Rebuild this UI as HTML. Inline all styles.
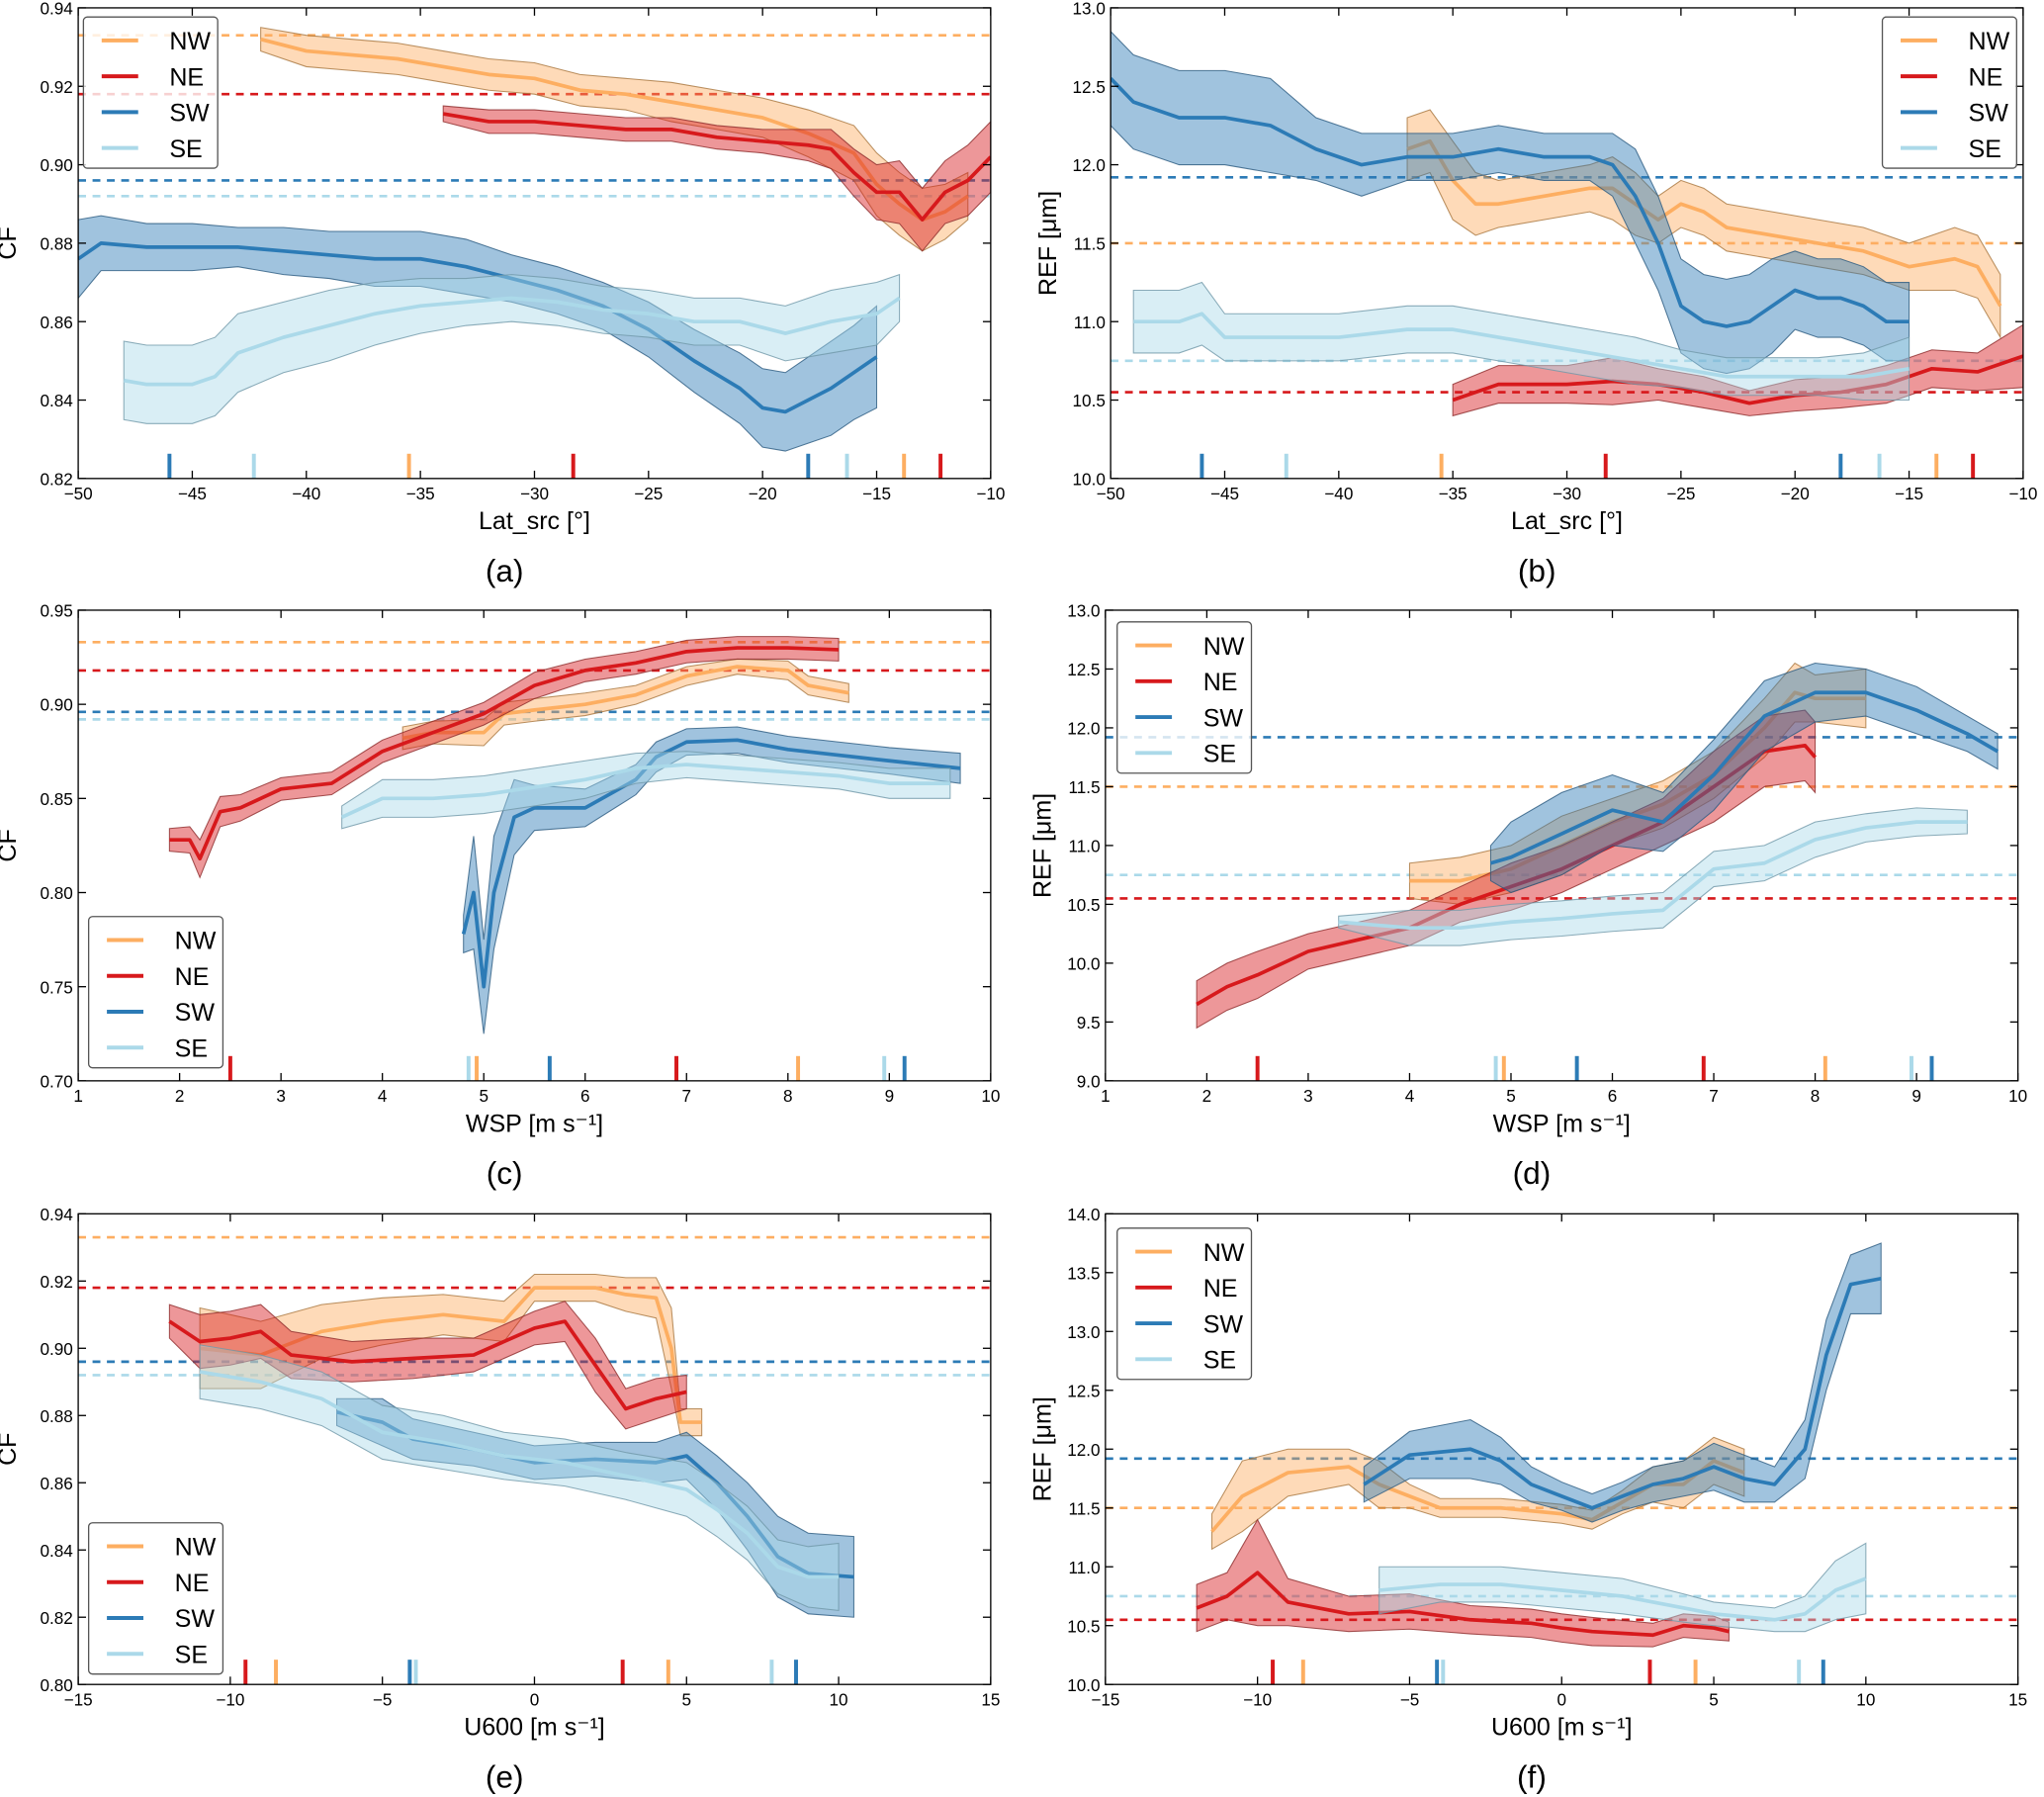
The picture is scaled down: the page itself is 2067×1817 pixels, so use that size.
<!DOCTYPE html>
<html><head><meta charset="utf-8"><style>
body{margin:0;background:#fff}
svg{display:block;font-family:"Liberation Sans",sans-serif}
</style></head><body>
<svg id="fig" width="2067" height="1817" viewBox="0 0 1568 1378.3" xmlns="http://www.w3.org/2000/svg"></svg>
<script>
// ---------- DATA ----------
const regions=["NW","NE","SW","SE"];
const colors={NW:"#fdae61",NE:"#d7191c",SW:"#2c7bb6",SE:"#abd9e9"};
const refCF={NW:0.933,NE:0.918,SW:0.896,SE:0.892};
const refREF={NW:11.5,NE:10.55,SW:11.92,SE:10.75};
const latTicks={SW:[-46,-18],SE:[-42.3,-16.3],NW:[-35.5,-13.8],NE:[-28.3,-12.2]};
const wspTicks={NE:[2.5,6.9],SE:[4.85,8.95],NW:[4.93,8.1],SW:[5.65,9.15]};
const uTicks={NE:[-9.5,2.9],NW:[-8.5,4.4],SW:[-4.1,8.6],SE:[-3.9,7.8]};

// panel a: CF vs Lat
const aNWx=[-42,-40,-38,-36,-34,-32,-30,-28,-26,-24,-22,-20,-18,-16,-15,-14,-13,-12,-11];
const aNWy=[0.932,0.929,0.928,0.927,0.925,0.923,0.922,0.919,0.918,0.916,0.914,0.912,0.908,0.903,0.895,0.890,0.886,0.888,0.892];
const aNWw=[0.003,0.004,0.004,0.004,0.004,0.004,0.004,0.004,0.004,0.005,0.005,0.005,0.006,0.007,0.008,0.008,0.008,0.007,0.006];
const aNEx=[-34,-32,-30,-28,-26,-24,-22,-20,-18,-17,-16,-15,-14,-13,-12,-11,-10];
const aNEy=[0.913,0.911,0.911,0.910,0.909,0.909,0.907,0.906,0.905,0.904,0.898,0.893,0.893,0.886,0.893,0.896,0.902];
const aNEw=[0.002,0.003,0.003,0.003,0.003,0.003,0.003,0.003,0.004,0.005,0.006,0.007,0.008,0.008,0.008,0.009,0.009];
const aSWx=[-50,-49,-47,-45,-43,-41,-39,-37,-35,-33,-31,-29,-27,-25,-23,-21,-20,-19,-18,-17,-16,-15];
const aSWy=[0.876,0.880,0.879,0.879,0.879,0.878,0.877,0.876,0.876,0.874,0.871,0.868,0.864,0.858,0.850,0.843,0.838,0.837,0.840,0.843,0.847,0.851];
const aSWw=[0.010,0.007,0.006,0.006,0.005,0.006,0.006,0.007,0.007,0.007,0.006,0.006,0.006,0.007,0.008,0.009,0.010,0.010,0.011,0.012,0.012,0.013];
const aSEx=[-48,-47,-45,-44,-43,-41,-39,-37,-35,-33,-31,-29,-27,-25,-23,-21,-19,-17,-15,-14];
const aSEy=[0.845,0.844,0.844,0.846,0.852,0.856,0.859,0.862,0.864,0.865,0.866,0.865,0.863,0.862,0.860,0.860,0.857,0.860,0.862,0.866];
const aSEw=[0.010,0.010,0.010,0.010,0.010,0.009,0.009,0.008,0.007,0.006,0.006,0.006,0.006,0.006,0.006,0.006,0.007,0.008,0.008,0.006];
// panel b: REF vs Lat
const bNWx=[-37,-36,-35,-34,-33,-31,-29,-28,-27,-26,-25,-24,-23,-21,-19,-17,-15,-13,-12,-11];
const bNWy=[12.1,12.15,11.9,11.75,11.75,11.8,11.85,11.85,11.75,11.65,11.75,11.7,11.6,11.55,11.5,11.45,11.35,11.4,11.35,11.1];
const bNWw=[0.2,0.2,0.25,0.2,0.15,0.15,0.15,0.2,0.2,0.15,0.15,0.15,0.15,0.15,0.15,0.15,0.15,0.2,0.2,0.2];
const bNEx=[-35,-33,-30,-28,-26,-24,-22,-20,-18,-16,-14,-12,-10];
const bNEy=[10.5,10.6,10.6,10.62,10.6,10.55,10.48,10.53,10.55,10.6,10.7,10.68,10.78];
const bNEw=[0.1,0.12,0.12,0.15,0.1,0.1,0.08,0.1,0.1,0.12,0.12,0.12,0.2];
const bSWx=[-50,-49,-47,-45,-43,-41,-39,-37,-35,-33,-31,-29,-28,-27,-26,-25,-24,-23,-22,-21,-20,-19,-18,-17,-16,-15];
const bSWy=[12.55,12.4,12.3,12.3,12.25,12.1,12.0,12.05,12.05,12.1,12.05,12.05,12.0,11.8,11.5,11.1,11.0,10.97,11.0,11.1,11.2,11.15,11.15,11.1,11.0,11.0];
const bSWw=[0.3,0.3,0.3,0.3,0.3,0.2,0.2,0.15,0.15,0.15,0.15,0.15,0.2,0.3,0.3,0.3,0.3,0.3,0.3,0.3,0.25,0.25,0.25,0.25,0.25,0.25];
const bSEx=[-49,-47,-46,-45,-43,-40,-37,-35,-33,-31,-29,-27,-25,-23,-21,-19,-17,-15];
const bSEy=[11.0,11.0,11.05,10.9,10.9,10.9,10.95,10.95,10.9,10.85,10.8,10.75,10.7,10.65,10.65,10.65,10.65,10.7];
const bSEw=[0.2,0.2,0.2,0.15,0.15,0.15,0.15,0.15,0.15,0.15,0.15,0.15,0.12,0.12,0.12,0.12,0.15,0.2];
// panel c: CF vs WSP
const cNWx=[4.2,4.5,5,5.2,5.5,6,6.5,7,7.5,8,8.2,8.6];
const cNWy=[0.882,0.885,0.885,0.895,0.897,0.900,0.905,0.915,0.920,0.918,0.910,0.906];
const cNWw=[0.006,0.006,0.007,0.006,0.006,0.006,0.005,0.005,0.004,0.005,0.005,0.005];
const cNEx=[1.9,2.1,2.2,2.4,2.6,3,3.5,4,4.5,5,5.5,6,6.5,7,7.5,8,8.5];
const cNEy=[0.828,0.828,0.818,0.843,0.845,0.855,0.858,0.875,0.885,0.895,0.910,0.918,0.922,0.928,0.930,0.930,0.929];
const cNEw=[0.006,0.007,0.010,0.008,0.007,0.006,0.006,0.006,0.006,0.006,0.007,0.006,0.006,0.006,0.006,0.006,0.006];
const cSWx=[4.8,4.9,5.0,5.1,5.3,5.5,6,6.5,6.7,7,7.5,8,8.5,9,9.7];
const cSWy=[0.778,0.800,0.750,0.800,0.840,0.845,0.845,0.860,0.872,0.880,0.881,0.876,0.873,0.870,0.866];
const cSWw=[0.010,0.030,0.025,0.030,0.020,0.012,0.010,0.008,0.008,0.007,0.007,0.007,0.007,0.007,0.008];
const cSEx=[3.6,4,4.5,5,5.5,6,6.5,7,7.5,8,8.5,9,9.6];
const cSEy=[0.840,0.850,0.850,0.852,0.856,0.860,0.866,0.868,0.866,0.864,0.862,0.858,0.858];
const cSEw=[0.006,0.010,0.010,0.010,0.010,0.010,0.008,0.007,0.007,0.007,0.007,0.008,0.008];
// panel d: REF vs WSP
const dNWx=[4,4.5,5,5.5,6,6.5,7,7.5,7.8,8,8.5];
const dNWy=[10.7,10.7,10.8,11.0,11.2,11.35,11.6,12.0,12.3,12.25,12.25];
const dNWw=[0.15,0.2,0.2,0.25,0.2,0.2,0.2,0.25,0.25,0.2,0.25];
const dNEx=[1.9,2.2,2.5,3,3.5,4,4.5,5,5.5,6,6.5,7,7.5,7.9,8];
const dNEy=[9.65,9.8,9.9,10.1,10.2,10.3,10.5,10.65,10.8,11.0,11.2,11.5,11.8,11.85,11.75];
const dNEw=[0.2,0.2,0.2,0.15,0.15,0.15,0.15,0.2,0.2,0.2,0.2,0.3,0.3,0.3,0.3];
const dSWx=[4.8,5,5.5,6,6.5,7,7.5,8,8.5,9,9.5,9.8];
const dSWy=[10.85,10.9,11.1,11.3,11.2,11.6,12.1,12.3,12.3,12.15,11.95,11.8];
const dSWw=[0.15,0.3,0.35,0.3,0.25,0.3,0.3,0.25,0.2,0.2,0.15,0.15];
const dSEx=[3.3,4,4.5,5,5.5,6,6.5,7,7.5,8,8.5,9,9.5];
const dSEy=[10.35,10.3,10.3,10.35,10.38,10.42,10.45,10.8,10.85,11.05,11.15,11.2,11.2];
const dSEw=[0.05,0.15,0.15,0.15,0.15,0.15,0.15,0.15,0.15,0.15,0.12,0.12,0.1];
// panel e: CF vs U600
const eNWx=[-11,-9,-7,-5,-3,-1,0,2,3,4,4.5,4.8,5.5];
const eNWy=[0.900,0.898,0.905,0.908,0.910,0.908,0.918,0.918,0.916,0.915,0.900,0.878,0.878];
const eNWw=[0.012,0.010,0.008,0.007,0.006,0.006,0.004,0.004,0.005,0.006,0.012,0.004,0.004];
const eNEx=[-12,-11,-10,-9,-8,-6,-4,-2,0,1,2,3,4,5];
const eNEy=[0.908,0.902,0.903,0.905,0.898,0.896,0.897,0.898,0.906,0.908,0.895,0.882,0.885,0.887];
const eNEw=[0.005,0.008,0.008,0.008,0.007,0.006,0.006,0.005,0.005,0.006,0.008,0.006,0.006,0.005];
const eSWx=[-6.5,-5,-4,-2,0,2,4,5,6,7,8,9,10.5];
const eSWy=[0.881,0.878,0.873,0.870,0.866,0.867,0.866,0.868,0.860,0.850,0.838,0.833,0.832];
const eSWw=[0.004,0.007,0.006,0.005,0.005,0.005,0.006,0.007,0.008,0.010,0.012,0.012,0.012];
const eSEx=[-11,-9,-7,-5,-3,-1,1,3,5,6,7,8,9,10];
const eSEy=[0.893,0.890,0.885,0.875,0.872,0.868,0.866,0.862,0.858,0.852,0.845,0.835,0.832,0.832];
const eSEw=[0.008,0.008,0.008,0.008,0.008,0.007,0.007,0.007,0.008,0.008,0.008,0.008,0.009,0.010];
// panel f: REF vs U600
const fNWx=[-11.5,-10.5,-9,-7,-6,-5,-4,-2,0,1,2,3,4,5,6];
const fNWy=[11.3,11.6,11.8,11.85,11.7,11.6,11.5,11.5,11.45,11.4,11.55,11.7,11.7,11.9,11.8];
const fNWw=[0.15,0.3,0.2,0.15,0.2,0.1,0.08,0.08,0.08,0.08,0.1,0.15,0.2,0.2,0.2];
const fNEx=[-12,-11,-10,-9,-7,-5,-3,-1,0,1,3,4,5,5.5];
const fNEy=[10.65,10.75,10.95,10.7,10.6,10.62,10.55,10.52,10.48,10.45,10.42,10.5,10.48,10.45];
const fNEw=[0.2,0.2,0.45,0.2,0.15,0.15,0.12,0.12,0.12,0.12,0.1,0.1,0.1,0.08];
const fSWx=[-6.5,-5,-3,-2,-1,0,1,2,3,4,5,6,7,8,8.7,9.5,10.5];
const fSWy=[11.7,11.95,12.0,11.9,11.7,11.6,11.5,11.6,11.7,11.75,11.85,11.75,11.7,12.0,12.8,13.4,13.45];
const fSWw=[0.15,0.2,0.25,0.2,0.15,0.12,0.12,0.12,0.15,0.15,0.2,0.2,0.15,0.25,0.3,0.25,0.3];
const fSEx=[-6,-4,-2,0,2,4,5,7,8,9,10];
const fSEy=[10.8,10.85,10.85,10.8,10.75,10.65,10.6,10.55,10.6,10.8,10.9];
const fSEw=[0.2,0.15,0.15,0.15,0.15,0.12,0.1,0.1,0.15,0.25,0.3];

// ---------- RENDER ----------
const NS="http://www.w3.org/2000/svg";
const svg=document.getElementById("fig");
function mk(tag,attrs,parent){const e=document.createElementNS(NS,tag);for(const k in attrs)e.setAttribute(k,attrs[k]);(parent||svg).appendChild(e);return e;}
function fmt(v,d){return (v<0?"\u2212":"")+Math.abs(v).toFixed(d);}
const panels=[
 {id:"a",L:60,T:6,xr:[-50,-10],xt:[-50,-45,-40,-35,-30,-25,-20,-15,-10],yr:[0.82,0.94],yt:[0.82,0.84,0.86,0.88,0.90,0.92,0.94],yd:2,ylab:"CF",xlab:"Lat_src [°]",ref:refCF,rt:latTicks,leg:[64,13],s:{NW:[aNWx,aNWy,aNWw],NE:[aNEx,aNEy,aNEw],SW:[aSWx,aSWy,aSWw],SE:[aSEx,aSEy,aSEw]}},
 {id:"b",L:852,T:6,xr:[-50,-10],xt:[-50,-45,-40,-35,-30,-25,-20,-15,-10],yr:[10,13],yt:[10,10.5,11,11.5,12,12.5,13],yd:1,ylab:"REF [μm]",xlab:"Lat_src [°]",ref:refREF,rt:latTicks,leg:[1444,13],s:{NW:[bNWx,bNWy,bNWw],NE:[bNEx,bNEy,bNEw],SW:[bSWx,bSWy,bSWw],SE:[bSEx,bSEy,bSEw]}},
 {id:"c",L:60,T:468,xr:[1,10],xt:[1,2,3,4,5,6,7,8,9,10],yr:[0.70,0.95],yt:[0.70,0.75,0.80,0.85,0.90,0.95],yd:2,ylab:"CF",xlab:"WSP [m s⁻¹]",ref:refCF,rt:wspTicks,leg:[68,703],s:{NW:[cNWx,cNWy,cNWw],NE:[cNEx,cNEy,cNEw],SW:[cSWx,cSWy,cSWw],SE:[cSEx,cSEy,cSEw]}},
 {id:"d",L:848,T:468,xr:[1,10],xt:[1,2,3,4,5,6,7,8,9,10],yr:[9,13],yt:[9,9.5,10,10.5,11,11.5,12,12.5,13],yd:1,ylab:"REF [μm]",xlab:"WSP [m s⁻¹]",ref:refREF,rt:wspTicks,leg:[857,477],s:{NW:[dNWx,dNWy,dNWw],NE:[dNEx,dNEy,dNEw],SW:[dSWx,dSWy,dSWw],SE:[dSEx,dSEy,dSEw]}},
 {id:"e",L:60,T:931,xr:[-15,15],xt:[-15,-10,-5,0,5,10,15],yr:[0.80,0.94],yt:[0.80,0.82,0.84,0.86,0.88,0.90,0.92,0.94],yd:2,ylab:"CF",xlab:"U600 [m s⁻¹]",ref:refCF,rt:uTicks,leg:[68,1168],s:{NW:[eNWx,eNWy,eNWw],NE:[eNEx,eNEy,eNEw],SW:[eSWx,eSWy,eSWw],SE:[eSEx,eSEy,eSEw]}},
 {id:"f",L:848,T:931,xr:[-15,15],xt:[-15,-10,-5,0,5,10,15],yr:[10,14],yt:[10,10.5,11,11.5,12,12.5,13,13.5,14],yd:1,ylab:"REF [μm]",xlab:"U600 [m s⁻¹]",ref:refREF,rt:uTicks,leg:[857,942],s:{NW:[fNWx,fNWy,fNWw],NE:[fNEx,fNEy,fNEw],SW:[fSWx,fSWy,fSWw],SE:[fSEx,fSEy,fSEw]}}
];
const W=700,H=361;
panels.forEach(p=>{
 const g=mk("g",{});
 
 
 const X=v=>p.L+(v-p.xr[0])/(p.xr[1]-p.xr[0])*W;
 const Y=v=>p.T+H-(v-p.yr[0])/(p.yr[1]-p.yr[0])*H;
 const clip=mk("clipPath",{id:"clip"+p.id},g);mk("rect",{x:p.L,y:p.T,width:W,height:H},clip);
 const pg=mk("g",{"clip-path":"url(#clip"+p.id+")"},g);
 regions.forEach(r=>{const l=mk("line",{x1:p.L,x2:p.L+W,y1:Y(p.ref[r]),y2:Y(p.ref[r]),stroke:colors[r],"stroke-width":2,"stroke-dasharray":"6,5"},pg);
  });
 regions.forEach(r=>{const [xs,ys,ws]=p.s[r];
  let up=xs.map((x,i)=>X(x)+","+Y(ys[i]+ws[i])).join(" ");
  let lo=xs.map((x,i)=>X(x)+","+Y(ys[i]-ws[i])).reverse().join(" ");
  const b=mk("polygon",{points:up+" "+lo,fill:colors[r],"fill-opacity":0.45,stroke:r==="NW"?"#a8763d":r==="NE"?"#8c2a2a":r==="SW"?"#2a5a80":"#6f97a8","stroke-width":0.8,"stroke-opacity":0.8},pg);
  
  const l=mk("polyline",{points:xs.map((x,i)=>X(x)+","+Y(ys[i])).join(" "),fill:"none",stroke:colors[r],"stroke-width":2.8,"stroke-linejoin":"round"},pg);
  
 });
 regions.forEach(r=>p.rt[r].forEach(v=>{const t=mk("line",{x1:X(v),x2:X(v),y1:p.T+H,y2:p.T+H-19,stroke:colors[r],"stroke-width":3},g);
  }));
 const fr=mk("rect",{x:p.L,y:p.T,width:W,height:H,fill:"none",stroke:"#000","stroke-width":1},g);
 
 p.xt.forEach(v=>{const x=X(v);
  mk("line",{x1:x,x2:x,y1:p.T+H,y2:p.T+H-6,stroke:"#000"},g);mk("line",{x1:x,x2:x,y1:p.T,y2:p.T+6,stroke:"#000"},g);
  const t=mk("text",{x:x,y:p.T+H+16,"text-anchor":"middle","font-size":13},g);t.textContent=fmt(v,0);
  });
 p.yt.forEach(v=>{const y=Y(v);
  mk("line",{x1:p.L,x2:p.L+6,y1:y,y2:y,stroke:"#000"},g);mk("line",{x1:p.L+W,x2:p.L+W-6,y1:y,y2:y,stroke:"#000"},g);
  const t=mk("text",{x:p.L-4,y:y+5,"text-anchor":"end","font-size":13},g);t.textContent=v.toFixed(p.yd);
  });
 const xl=mk("text",{x:p.L+W/2,y:p.T+H+39,"text-anchor":"middle","font-size":19},g);xl.textContent=p.xlab;
 
 const yx=p.L-(p.yd===2?48:42);
 const yl=mk("text",{x:yx,y:p.T+H/2,"text-anchor":"middle","font-size":19,transform:`rotate(-90 ${yx} ${p.T+H/2})`},g);yl.textContent=p.ylab;
 
 const cap=mk("text",{x:p.L+W/2-23,y:p.T+H+79,"text-anchor":"middle","font-size":24},g);cap.textContent="("+p.id+")";
 
 const [lx,ly]=p.leg;
 const lg=mk("g",{},g);
 mk("rect",{x:lx,y:ly,width:103,height:116,rx:3,fill:"#fff","fill-opacity":0.8,stroke:"#555","stroke-width":1},lg);
 regions.forEach((r,i)=>{const yy=ly+18+i*27.5;
  const e=mk("g",{},lg);
  mk("line",{x1:lx+14,x2:lx+42,y1:yy,y2:yy,stroke:colors[r],"stroke-width":3},e);
  const t=mk("text",{x:lx+66,y:yy+7,"font-size":19},e);t.textContent=r;});
});
</script>
</body></html>
